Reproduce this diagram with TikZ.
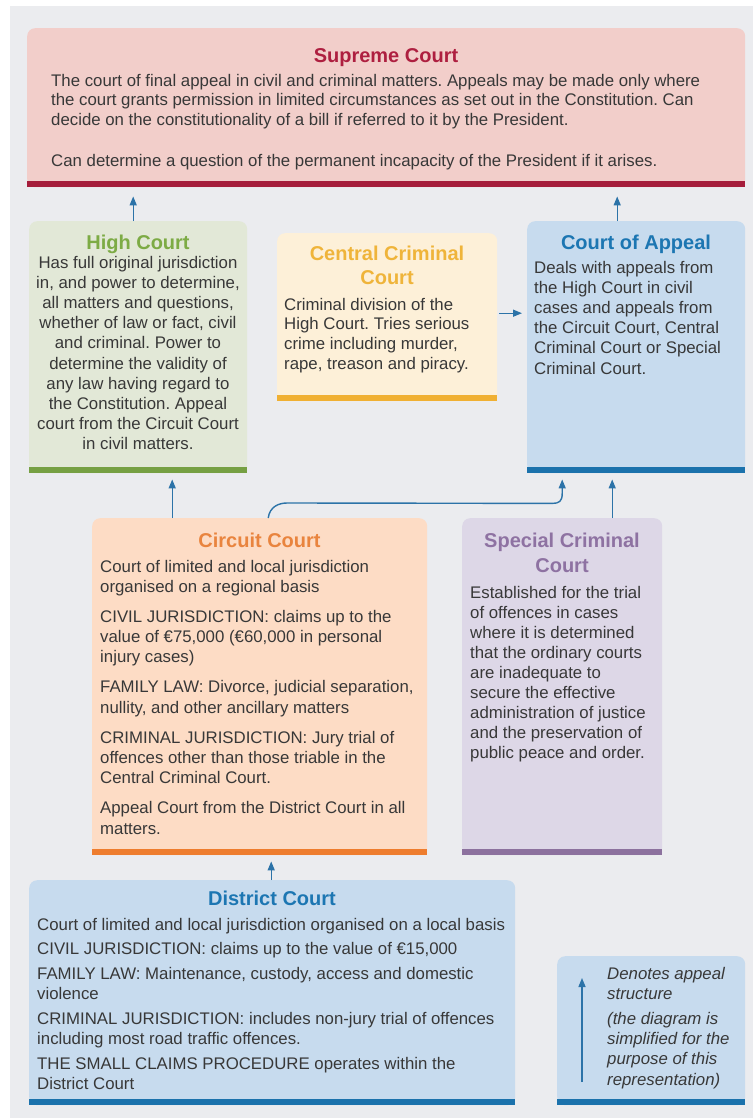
\documentclass[tikz,border=0pt]{standalone}
\usepackage{fontspec}
\setmainfont{Liberation Sans}
\usetikzlibrary{arrows.meta,calc}
\frenchspacing
\definecolor{panel}{HTML}{EBECEF}
\definecolor{txt}{HTML}{383838}
\definecolor{arrowc}{HTML}{2C73A8}
\definecolor{scfill}{HTML}{F2CECA}
\definecolor{scbar}{HTML}{A51D3B}
\definecolor{sctitle}{HTML}{AE1F40}
\definecolor{hcfill}{HTML}{E2E8D7}
\definecolor{hcbar}{HTML}{76A043}
\definecolor{hctitle}{HTML}{7DAB45}
\definecolor{ccfill}{HTML}{FDF0D8}
\definecolor{ccbar}{HTML}{F0B032}
\definecolor{cctitle}{HTML}{EFB43A}
\definecolor{bluefill}{HTML}{C7DBEE}
\definecolor{bluebar}{HTML}{1B72AC}
\definecolor{bluetitle}{HTML}{1C76B2}
\definecolor{cirfill}{HTML}{FDDCC5}
\definecolor{cirbar}{HTML}{EE7D2E}
\definecolor{cirtitle}{HTML}{E9843E}
\definecolor{spfill}{HTML}{DDD7E7}
\definecolor{spbar}{HTML}{8C719E}
\definecolor{sptitle}{HTML}{8E72A2}
\tikzset{
  courtbox/.style={draw=none, rounded corners=8pt, inner sep=0pt, anchor=north west},
  body/.style={font=\fontsize{16.8}{20.2}\selectfont, text=txt, inner sep=0pt, align=left, anchor=north west},
  ctitle/.style={font=\bfseries\fontsize{20}{24}\selectfont, inner sep=0pt, align=center},
  arr/.style={draw=arrowc, line width=1.4pt, -{Triangle[length=9pt,width=7pt]}},
}
\begin{document}
\begin{tikzpicture}[x=1pt,y=-1pt]
\useasboundingbox (0,0) rectangle (753,1118);
\fill[panel] (10,6) rectangle (753,1118);

% boxes
\node[courtbox, fill=scfill, minimum width=718pt, minimum height=159pt] (sc) at (27,28) {};
\node[courtbox, fill=hcfill, minimum width=218pt, minimum height=252pt] (hc) at (29,221) {};
\node[courtbox, fill=ccfill, minimum width=220pt, minimum height=168pt] (ccc) at (277,233) {};
\node[courtbox, fill=bluefill, minimum width=218pt, minimum height=252pt] (coa) at (527,221) {};
\node[courtbox, fill=cirfill, minimum width=335pt, minimum height=337pt] (cc) at (92,518) {};
\node[courtbox, fill=spfill, minimum width=200pt, minimum height=337pt] (sp) at (462,518) {};
\node[courtbox, fill=bluefill, minimum width=486pt, minimum height=225pt] (dc) at (29,880) {};
\node[courtbox, fill=bluefill, minimum width=188pt, minimum height=149pt] (lg) at (557,956) {};

% bottom bars
\fill[scbar] ($(sc.south west)+(0,-6.5)$) rectangle (sc.south east);
\fill[hcbar] ($(hc.south west)+(0,-6.5)$) rectangle (hc.south east);
\fill[ccbar] ($(ccc.south west)+(0,-6.5)$) rectangle (ccc.south east);
\fill[bluebar] ($(coa.south west)+(0,-6.5)$) rectangle (coa.south east);
\fill[cirbar] ($(cc.south west)+(0,-6.5)$) rectangle (cc.south east);
\fill[spbar] ($(sp.south west)+(0,-6.5)$) rectangle (sp.south east);
\fill[bluebar] ($(dc.south west)+(0,-6.5)$) rectangle (dc.south east);
\fill[bluebar] ($(lg.south west)+(0,-6.5)$) rectangle (lg.south east);

% Supreme Court
\node[ctitle, text=sctitle, anchor=base] (sct) at (386,62.2) {Supreme Court};
\node[body, font=\fontsize{16.8}{19.8}\selectfont] (scb) at (51,73.7) {The court of final appeal in civil and criminal matters. Appeals may be made only where\\
the court grants permission in limited circumstances as set out in the Constitution. Can\\
decide on the constitutionality of a bill if referred to it by the President.\\[21pt]
Can determine a question of the permanent incapacity of the President if it arises.};

% High Court
\node[ctitle, text=hctitle, anchor=base] (hct) at (138,249.2) {High Court};
\node[body, align=center, anchor=north] (hcb) at (138,255.7) {Has full original jurisdiction\\
in, and power to determine,\\
all matters and questions,\\
whether of law or fact, civil\\
and criminal. Power to\\
determine the validity of\\
any law having regard to\\
the Constitution. Appeal\\
court from the Circuit Court\\
in civil matters.};

% Central Criminal Court
\node[ctitle, text=cctitle, anchor=north] (ccct) at (387,245.6) {Central Criminal\\Court};
\node[body, font=\fontsize{16.8}{19.8}\selectfont] (cccb) at (284,297.7) {Criminal division of the\\
High Court. Tries serious\\
crime including murder,\\
rape, treason and piracy.};

% Court of Appeal
\node[ctitle, text=bluetitle, anchor=base] (coat) at (636,249.2) {Court of Appeal};
\node[body] (coab) at (534,260.7) {Deals with appeals from\\
the High Court in civil\\
cases and appeals from\\
the Circuit Court, Central\\
Criminal Court or Special\\
Criminal Court.};

% Circuit Court
\node[ctitle, text=cirtitle, anchor=base] (cct) at (259.5,547.2) {Circuit Court};
\node[body, font=\fontsize{16.8}{20.3}\selectfont] (ccb) at (100,559.7) {Court of limited and local jurisdiction\\
organised on a regional basis\\[9.7pt]
CIVIL JURISDICTION: claims up to the\\
value of €75,000 (€60,000 in personal\\
injury cases)\\[9.7pt]
FAMILY LAW: Divorce, judicial separation,\\
nullity, and other ancillary matters\\[9.7pt]
CRIMINAL JURISDICTION: Jury trial of\\
offences other than those triable in the\\
Central Criminal Court.\\[9.7pt]
Appeal Court from the District Court in all\\
matters.};

% Special Criminal Court
\node[ctitle, text=sptitle, anchor=north, font=\bfseries\fontsize{20}{25}\selectfont] (spt) at (562,532.6) {Special Criminal\\Court};
\node[body, font=\fontsize{16.8}{20.1}\selectfont] (spb) at (470,585.7) {Established for the trial\\
of offences in cases\\
where it is determined\\
that the ordinary courts\\
are inadequate to\\
secure the effective\\
administration of justice\\
and the preservation of\\
public peace and order.};

% District Court
\node[ctitle, text=bluetitle, anchor=base] (dct) at (272,905.2) {District Court};
\node[body, font=\fontsize{16.8}{20.5}\selectfont] (dcb) at (37,917.7) {Court of limited and local jurisdiction organised on a local basis\\[4pt]
CIVIL JURISDICTION: claims up to the value of €15,000\\[4pt]
FAMILY LAW: Maintenance, custody, access and domestic\\
violence\\[4pt]
CRIMINAL JURISDICTION: includes non-jury trial of offences\\
including most road traffic offences.\\[4pt]
THE SMALL CLAIMS PROCEDURE operates within the\\
District Court};

% Legend
\node[body, font=\itshape\fontsize{16.8}{20.3}\selectfont] (lgb) at (607,966.7) {Denotes appeal\\
structure\\[4.5pt]
(the diagram is\\
simplified for the\\
purpose of this\\
representation)};
\coordinate (lga) at (582,1082);
\coordinate (lgb2) at (582,978);
\draw[arr] (lga) -- (lgb2);

% appeal arrows
\draw[arr, shorten >=9pt] ([xshift=-5pt]hc.north) -- ([xshift=-5pt]hc.north |- sc.south);
\draw[arr, shorten >=9pt] ([xshift=-19pt]coa.north) -- ([xshift=-19pt]coa.north |- sc.south);
\draw[arr, shorten <=2pt, shorten >=5pt] ([yshift=4pt]ccc.east) -- ([yshift=4pt]ccc.east -| coa.west);
\draw[arr, shorten >=6pt] ([xshift=-87.5pt]cc.north) -- ([xshift=-87.5pt]cc.north |- hc.south);
\draw[arr, shorten >=6pt] ([xshift=50pt]sp.north) -- ([xshift=50pt]sp.north |- coa.south);
\draw[arr] ([xshift=8.5pt]cc.north) .. controls +(1.5,-11) and +(-9,0) .. ++(19,-15)
  -- ($([xshift=-74pt]coa.south)+(-10,30)$) .. controls +(7,0) and +(0,8) .. ($([xshift=-74pt]coa.south)+(0,20)$)
  -- ($([xshift=-74pt]coa.south)+(0,6)$);
\draw[arr, shorten >=6pt] ([xshift=-1pt]dc.north) -- ([xshift=-1pt]dc.north |- cc.south);
\end{tikzpicture}
\end{document}
